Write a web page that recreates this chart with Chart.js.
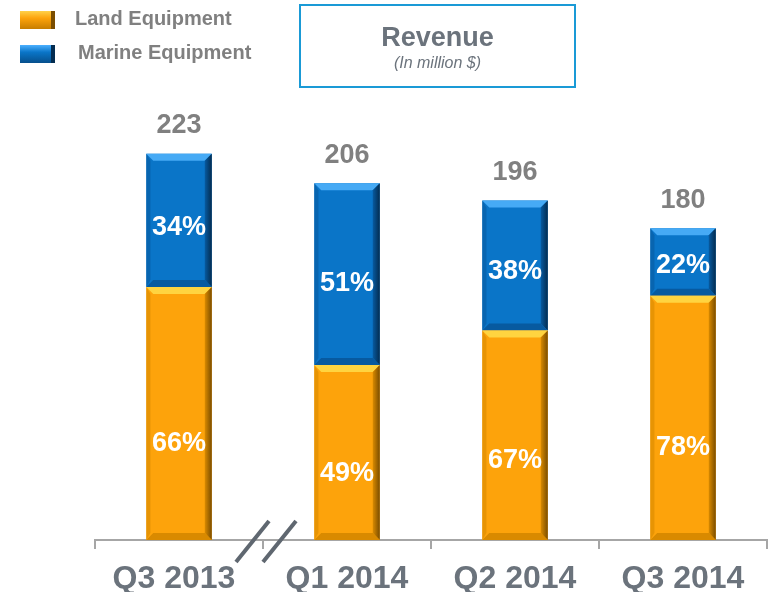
<!DOCTYPE html>
<html>
<head>
<meta charset="utf-8">
<script src="https://cdn.jsdelivr.net/npm/chart.js@4.4.0/dist/chart.umd.min.js"></script>
<style>
  body { margin: 0; background: #fff; font-family: "Liberation Sans", Arial, sans-serif; }
  .wrap { position: relative; width: 769px; height: 592px; }
  canvas { position: absolute; left: 0; top: 0; }
  .legend { position: absolute; left: 20px; top: 7px; }
  .legend .item { position: relative; height: 34px; }
  .legend .box { position: absolute; left: 0; top: 4px; width: 35px; height: 18px; box-sizing: border-box; }
  .legend .land { background: linear-gradient(#ffd24a, #fda30b 40%, #c77d00); border-right: 4px solid #7a4d00; }
  .legend .marine { background: linear-gradient(#4cb0ff, #0a75c8 40%, #064f8c); border-right: 4px solid #032c50; }
  .legend .txt { position: absolute; top: 0; font-weight: bold; font-size: 20px; color: #808080; white-space: nowrap; }
  .title { position: absolute; left: 299px; top: 4px; width: 273px; height: 80px; border: 2px solid #1a9ad6; text-align: center; }
  .title .main { margin-top: 15px; font-weight: bold; font-size: 27px; color: #6b737c; line-height: 32px; }
  .title .sub { font-style: italic; font-size: 16px; color: #6b737c; line-height: 20px; }
</style>
</head>
<body>
<div class="wrap">
  <canvas id="revenueChart" width="769" height="592"></canvas>
  <div class="legend">
    <div class="item"><div class="box land"></div><div class="txt" style="left:55px">Land Equipment</div></div>
    <div class="item"><div class="box marine"></div><div class="txt" style="left:58px">Marine Equipment</div></div>
  </div>
  <div class="title">
    <div class="main">Revenue</div>
    <div class="sub">(In million $)</div>
  </div>
</div>
<script>
// ? Data
// ? ==================================
const quarters = ["Q3 2013", "Q1 2014", "Q2 2014", "Q3 2014"];
const landValues = [146, 101, 121, 141];
const marineValues = [77, 105, 75, 39];
const totalLabels = ["223", "206", "196", "180"];
const landPct = ["66%", "49%", "67%", "78%"];
const marinePct = ["34%", "51%", "38%", "22%"];

const colors = {
  land: { main: "#fda30b", light: "#ffd440", dark: "#7a4d00", shade: "#d98a00" },
  marine: { main: "#0a75c8", light: "#46aaf5", dark: "#032c50", shade: "#075aa0" },
};
const font = "'Liberation Sans', Arial, sans-serif";

// & bevel look on every bar
// & ============================
const bevelPlugin = {
  id: "bevel",
  afterDatasetDraw(chart, args) {
    const ctx = chart.ctx;
    const c = args.index === 0 ? colors.land : colors.marine;
    args.meta.data.forEach((bar) => {
      const p = bar.getProps(["x", "y", "base", "width"], true);
      const l = p.x - p.width / 2, r = p.x + p.width / 2;
      const t = Math.min(p.y, p.base), b = Math.max(p.y, p.base);
      const e = 7;
      ctx.save();
      // top
      ctx.fillStyle = c.light;
      ctx.beginPath();
      ctx.moveTo(l, t); ctx.lineTo(r, t); ctx.lineTo(r - e, t + e); ctx.lineTo(l + e, t + e);
      ctx.closePath(); ctx.fill();
      // right
      const g = ctx.createLinearGradient(r - e, 0, r, 0);
      g.addColorStop(0, c.shade); g.addColorStop(1, c.dark);
      ctx.fillStyle = g;
      ctx.beginPath();
      ctx.moveTo(r, t); ctx.lineTo(r, b); ctx.lineTo(r - e, b - e); ctx.lineTo(r - e, t + e);
      ctx.closePath(); ctx.fill();
      // bottom
      ctx.fillStyle = c.shade;
      ctx.beginPath();
      ctx.moveTo(l, b); ctx.lineTo(r, b); ctx.lineTo(r - e, b - e); ctx.lineTo(l + e, b - e);
      ctx.closePath(); ctx.fill();
      // left
      ctx.fillStyle = c.shade;
      ctx.globalAlpha = 0.6;
      ctx.beginPath();
      ctx.moveTo(l, t); ctx.lineTo(l, b); ctx.lineTo(l + e * 0.6, b - e); ctx.lineTo(l + e * 0.6, t + e);
      ctx.closePath(); ctx.fill();
      ctx.restore();
    });
  },
};

// * labels + axis break
// * ============================
const labelPlugin = {
  id: "labels",
  afterDatasetsDraw(chart) {
    const ctx = chart.ctx;
    const xs = chart.scales.x;
    const by = chart.chartArea.bottom;
    ctx.save();
    ctx.textAlign = "center";
    ctx.textBaseline = "middle";
    ctx.font = "bold 27px " + font;
    const landMeta = chart.getDatasetMeta(0);
    const marineMeta = chart.getDatasetMeta(1);
    quarters.forEach((q, i) => {
      const lb = landMeta.data[i], mb = marineMeta.data[i];
      ctx.fillStyle = "#ffffff";
      ctx.fillText(landPct[i], lb.x, lb.y + (lb.base - lb.y) * 0.62);
      ctx.fillText(marinePct[i], mb.x, mb.y + (mb.base - mb.y) * 0.55);
      ctx.fillStyle = "#808080";
      ctx.fillText(totalLabels[i], mb.x, mb.y - 28);
    });
    // category names under the axis
    ctx.font = "bold 32px " + font;
    ctx.fillStyle = "#6b737c";
    quarters.forEach((q, i) => {
      ctx.fillText(q, xs.getPixelForValue(i) - (i === 0 ? 5 : 0), by + 39);
    });
    // axis break marks between first two quarters
    const bx = (xs.getPixelForValue(0) + xs.getPixelForValue(1)) / 2;
    ctx.strokeStyle = "#5f6770";
    ctx.lineWidth = 4;
    [-11, 16].forEach((dx) => {
      ctx.beginPath();
      ctx.moveTo(bx + dx + 17, by - 19);
      ctx.lineTo(bx + dx - 16, by + 22);
      ctx.stroke();
    });
    ctx.restore();
  },
};

new Chart(document.getElementById("revenueChart"), {
  type: "bar",
  data: {
    labels: quarters,
    datasets: [
      { label: "Land Equipment", data: landValues, backgroundColor: colors.land.main, borderWidth: 0 },
      { label: "Marine Equipment", data: marineValues, backgroundColor: colors.marine.main, borderWidth: 0 },
    ],
  },
  options: {
    responsive: false,
    animation: false,
    layout: { padding: { left: 95, right: 2, top: 100, bottom: 43 } },
    plugins: { legend: { display: false }, tooltip: { enabled: false } },
    datasets: { bar: { categoryPercentage: 1, barPercentage: 0.39 } },
    scales: {
      x: {
        stacked: true,
        border: { color: "#a6a6a6", width: 2 },
        grid: { offset: true, drawOnChartArea: false, tickLength: 9, color: "#a6a6a6", lineWidth: 2 },
        ticks: { display: false },
      },
      y: { stacked: true, display: false, min: 0, max: 254 },
    },
  },
  plugins: [bevelPlugin, labelPlugin],
});
</script>
</body>
</html>
